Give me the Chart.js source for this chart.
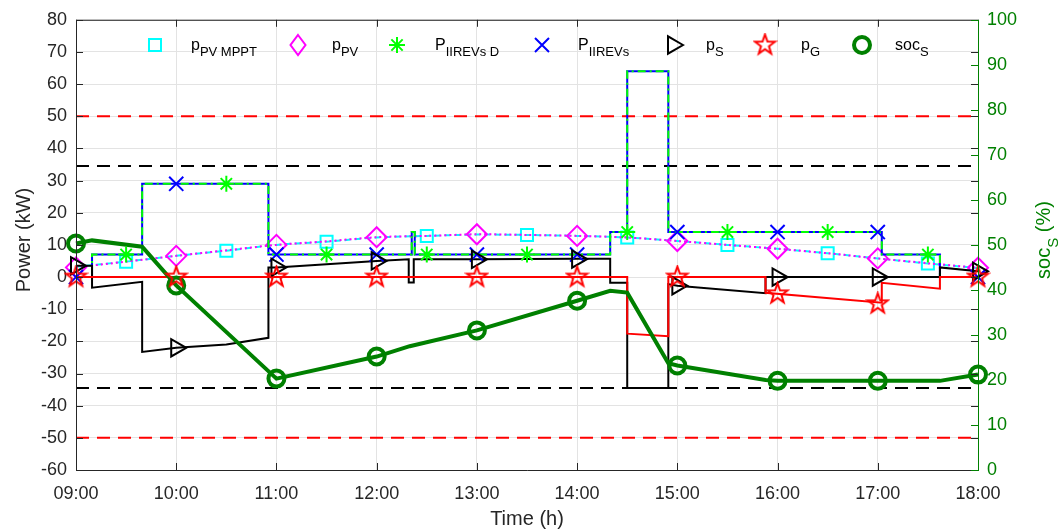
<!DOCTYPE html>
<html>
<head>
<meta charset="utf-8">
<script src="https://cdn.jsdelivr.net/npm/chart.js@4.4.1/dist/chart.umd.min.js"></script>
<style>
  html, body { margin: 0; padding: 0; background: #fff; }
</style>
</head>
<body>
<canvas id="chart" width="1060" height="531"></canvas>
<script>
// time in hours, 9 = 09:00
const hours = [9, 10, 11, 12, 13, 14, 15, 16, 17, 18];
const halfHours = [9.5, 10.5, 11.5, 12.5, 13.5, 14.5, 15.5, 16.5, 17.5];
const hourLabels = ["09:00", "10:00", "11:00", "12:00", "13:00", "14:00", "15:00", "16:00", "17:00", "18:00"];

// PV power (kW), every half hour
const pvTime = [9, 9.5, 10, 10.5, 11, 11.5, 12, 12.5, 13, 13.5, 14, 14.5, 15, 15.5, 16, 16.5, 17, 17.5, 18];
const pvMppt = [3.2, 4.8, 6.6, 8.2, 10.0, 11.0, 12.3, 12.8, 13.2, 13.1, 12.8, 12.3, 11.2, 10.0, 8.8, 7.4, 5.8, 4.2, 2.8];
const pvUsed = [3.0, 4.8, 6.6, 8.3, 10.0, 11.1, 12.4, 12.8, 13.3, 13.1, 12.8, 12.3, 11.2, 10.0, 8.8, 7.4, 5.8, 4.3, 2.9];

// EV charging power (kW)
const evTime = [9, 9.16, 9.16, 9.66, 9.66, 10.92, 10.92, 12.35, 12.35, 12.38, 12.38, 14.33, 14.33, 14.5, 14.5, 14.91, 14.91, 17.04, 17.04, 17.62, 17.62, 18];
const evPower = [0, 0, 7, 7, 29, 29, 7, 7, 14, 14, 7, 7, 14, 14, 64, 64, 14, 14, 7, 7, 0, 0];
const evPowerD = [0, 0, 7, 7, 29, 29, 7, 7, 14, 14, 7, 7, 14, 14, 64, 64, 14, 14, 7, 7, 0, 0];
const evAtHours = [0, 29, 7, 7, 7, 7, 14, 14, 14, 0];
const evDAtHalf = [7, 29, 7, 7, 7, 14, 14, 14, 7];

// storage power (kW)
const psTime = [9, 9.16, 9.16, 9.66, 9.66, 10, 10.5, 10.92, 10.92, 11, 11.5, 12, 12.32, 12.32, 12.37, 12.37, 13, 14, 14.33, 14.33, 14.5, 14.5, 14.91, 14.91, 15, 15.88, 15.88, 17.62, 17.62, 18];
const psVal = [3.5, 3.5, -3.3, -1.5, -23.3, -22, -21, -18.9, 3, 3, 4, 5, 5.5, -1.7, -1.7, 5.5, 5.5, 5.7, 5.7, -1.8, -1.8, -34.5, -34.5, -2.2, -2.7, -5, 0, 0, 3, 1.8];
const psAtHours = [3.5, -22, 3, 5, 5.5, 5.6, -2.7, 0, 0, 1.8];

// grid power (kW)
const pgTime = [9, 14.5, 14.5, 14.91, 14.91, 15.88, 15.88, 17.04, 17.04, 17.62, 17.62, 18];
const pgVal = [0, 0, -17.6, -18.4, 0, 0, -4.9, -8, -1.8, -3.6, 0, 0];
const pgAtHours = [0, 0, 0, 0, 0, 0, 0, -5.2, -8.3, 0];

// storage state of charge (%)
const socTime = [9, 9.16, 9.66, 10, 11, 12, 12.33, 13, 14, 14.33, 14.5, 14.91, 15, 15.88, 16, 17, 17.62, 18];
const socVal = [50.3, 51, 49.6, 41, 20.3, 25.2, 27.5, 31, 37.6, 39.8, 39.4, 23.7, 23.2, 20, 19.8, 19.8, 19.8, 21.2];
const socAtHours = [50.3, 41, 20.3, 25.2, 31, 37.6, 23.2, 19.8, 19.8, 21.2];

// limits (kW)
const gridLimit = [50, -50];
const storageLimit = [34.5, -34.5];

const pts = (t, v) => t.map((x, i) => ({ x, y: v[i] }));

function makeStar(r, color) {
  const s = Math.ceil(r * 2 + 4);
  const c = document.createElement("canvas");
  c.width = s; c.height = s;
  const g = c.getContext("2d");
  g.strokeStyle = color;
  g.lineWidth = 2;
  g.beginPath();
  for (let i = 0; i < 10; i++) {
    const rr = i % 2 ? r * 0.4 : r;
    const a = -Math.PI / 2 + i * Math.PI / 5;
    const px = s / 2 + rr * Math.cos(a), py = s / 2 + rr * Math.sin(a);
    if (i) g.lineTo(px, py); else g.moveTo(px, py);
  }
  g.closePath();
  g.stroke();
  return c;
}
const redStar = makeStar(10.5, "#ff0000");

const GREEN = "#008000";
const TXT = "#262626";
const FONT = "'Liberation Sans', Arial, sans-serif";

const lineBase = { pointRadius: 0, fill: false, tension: 0, clip: false };
const markBase = { showLine: false, clip: false, pointBorderWidth: 2, pointBackgroundColor: "rgba(0,0,0,0)" };

const datasets = [];
gridLimit.forEach((v, i) => datasets.push({ ...lineBase, data: pts([9, 18], [v, v]), borderColor: "#ff0000", borderWidth: 2, borderDash: [13, 8], order: 20 + i }));
storageLimit.forEach((v, i) => datasets.push({ ...lineBase, data: pts([9, 18], [v, v]), borderColor: "#000000", borderWidth: 2, borderDash: [13, 8], order: 22 + i }));

datasets.push(
  { ...lineBase, data: pts(pvTime, pvMppt), borderColor: "#00ffff", borderWidth: 2, borderDash: [6, 4], tension: 0.3,
    pointRadius: pvTime.map((t, i) => (i % 2 ? 8.5 : 0)), pointStyle: "rect", pointBorderColor: "#00ffff", pointBorderWidth: 2, pointBackgroundColor: "rgba(0,0,0,0)", order: 15 },
  { ...lineBase, data: pts(pvTime, pvUsed), borderColor: "#ff00ff", borderWidth: 2, borderDash: [2, 3], tension: 0.3,
    pointRadius: pvTime.map((t, i) => (i % 2 ? 0 : 10)), pointStyle: "rectRot", pointBorderColor: "#ff00ff", pointBorderWidth: 2, pointBackgroundColor: "rgba(0,0,0,0)", order: 14 },
  { ...lineBase, data: pts(evTime, evPower), borderColor: "#0000ff", borderWidth: 2, order: 13 },
  { ...lineBase, data: pts(evTime, evPowerD), borderColor: "#00ff00", borderWidth: 2, borderDash: [8, 4, 2, 4], order: 12 },
  { ...lineBase, data: pts(psTime, psVal), borderColor: "#000000", borderWidth: 2, order: 11 },
  { ...lineBase, data: pts(pgTime, pgVal), borderColor: "#ff0000", borderWidth: 2, order: 10 },
  { ...lineBase, data: pts(socTime, socVal), borderColor: GREEN, borderWidth: 4, yAxisID: "y2", order: 9 },
  { ...markBase, data: pts(halfHours, evDAtHalf), pointStyle: "star", pointRadius: 8, pointBorderColor: "#00ff00", order: 8 },
  { ...markBase, data: pts(hours, evAtHours), pointStyle: "crossRot", pointRadius: 10, pointBorderColor: "#0000ff", order: 7 },
  { ...markBase, data: pts(hours, psAtHours), pointStyle: "triangle", pointRotation: 90, pointRadius: 10, pointBorderColor: "#000000", order: 6 },
  { ...markBase, data: pts(hours, socAtHours), pointStyle: "circle", pointRadius: 8, pointBorderWidth: 4, pointBorderColor: GREEN, yAxisID: "y2", order: 5 },
  { ...markBase, data: pts(hours, pgAtHours), pointStyle: redStar, pointRadius: 10, order: 4 }
);

// legend entries: marker, main text, subscript
const legendItems = [
  { mark: "square", color: "#00ffff", main: "p", sub: "PV MPPT", mx: 155, tx: 191 },
  { mark: "diamond", color: "#ff00ff", main: "p", sub: "PV", mx: 298, tx: 332 },
  { mark: "asterisk", color: "#00ff00", main: "P", sub: "IIREVs D", mx: 397, tx: 435 },
  { mark: "cross", color: "#0000ff", main: "P", sub: "IIREVs", mx: 542, tx: 578 },
  { mark: "triangle", color: "#000000", main: "p", sub: "S", mx: 673, tx: 706 },
  { mark: "star", color: "#ff0000", main: "p", sub: "G", mx: 765, tx: 801 },
  { mark: "circle", color: GREEN, main: "soc", sub: "S", mx: 862, tx: 895 }
];

function drawMark(ctx, kind, color, x, y) {
  ctx.save();
  ctx.strokeStyle = color;
  ctx.lineWidth = 2;
  ctx.beginPath();
  if (kind === "square") {
    ctx.rect(x - 6, y - 6, 12, 12);
  } else if (kind === "diamond") {
    ctx.moveTo(x, y - 10); ctx.lineTo(x + 7.5, y); ctx.lineTo(x, y + 10); ctx.lineTo(x - 7.5, y); ctx.closePath();
  } else if (kind === "asterisk") {
    for (let k = 0; k < 4; k++) {
      const a = k * Math.PI / 4;
      ctx.moveTo(x - 8 * Math.cos(a), y - 8 * Math.sin(a));
      ctx.lineTo(x + 8 * Math.cos(a), y + 8 * Math.sin(a));
    }
  } else if (kind === "cross") {
    ctx.moveTo(x - 7, y - 7); ctx.lineTo(x + 7, y + 7);
    ctx.moveTo(x + 7, y - 7); ctx.lineTo(x - 7, y + 7);
  } else if (kind === "triangle") {
    ctx.moveTo(x + 10, y); ctx.lineTo(x - 5, y - 8.7); ctx.lineTo(x - 5, y + 8.7); ctx.closePath();
  } else if (kind === "star") {
    ctx.drawImage(redStar, x - redStar.width / 2, y - redStar.height / 2);
  } else if (kind === "circle") {
    ctx.lineWidth = 4;
    ctx.arc(x, y, 8, 0, Math.PI * 2);
  }
  ctx.stroke();
  ctx.restore();
}

function subText(ctx, main, sub, rest, x, y, size, subSize, color) {
  ctx.fillStyle = color;
  ctx.textBaseline = "alphabetic";
  ctx.textAlign = "left";
  ctx.font = size + "px " + FONT;
  ctx.fillText(main, x, y);
  let w = ctx.measureText(main).width;
  ctx.font = subSize + "px " + FONT;
  ctx.fillText(sub, x + w, y + size * 0.4);
  w += ctx.measureText(sub).width;
  if (rest) {
    ctx.font = size + "px " + FONT;
    ctx.fillText(rest, x + w, y);
    w += ctx.measureText(rest).width;
  }
  return w;
}

function measureSub(ctx, main, sub, rest, size, subSize) {
  ctx.font = size + "px " + FONT;
  let w = ctx.measureText(main).width + ctx.measureText(rest).width;
  ctx.font = subSize + "px " + FONT;
  return w + ctx.measureText(sub).width;
}

const decor = {
  id: "decor",
  afterDraw(chart) {
    const { ctx, chartArea: a, scales } = chart;
    ctx.save();
    // frame
    ctx.lineWidth = 1;
    ctx.strokeStyle = TXT;
    ctx.beginPath();
    ctx.moveTo(a.left + 0.5, a.top + 0.5); ctx.lineTo(a.left + 0.5, a.bottom + 0.5);
    ctx.lineTo(a.right, a.bottom + 0.5);
    ctx.moveTo(a.left, a.top + 0.5); ctx.lineTo(a.right, a.top + 0.5);
    // left axis ticks, mirrored on right
    for (let v = -60; v <= 80; v += 10) {
      const y = Math.round(scales.y.getPixelForValue(v)) + 0.5;
      ctx.moveTo(a.left, y); ctx.lineTo(a.left + 7, y);
      ctx.moveTo(a.right - 7, y); ctx.lineTo(a.right, y);
    }
    hours.forEach(h => {
      const x = Math.round(scales.x.getPixelForValue(h)) + 0.5;
      ctx.moveTo(x, a.bottom); ctx.lineTo(x, a.bottom - 7);
      ctx.moveTo(x, a.top); ctx.lineTo(x, a.top + 7);
    });
    ctx.stroke();
    // right axis in green
    ctx.strokeStyle = GREEN;
    ctx.beginPath();
    ctx.moveTo(a.right + 0.5, a.top); ctx.lineTo(a.right + 0.5, a.bottom + 1);
    for (let v = 0; v <= 100; v += 10) {
      const y = Math.round(scales.y2.getPixelForValue(v)) + 0.5;
      ctx.moveTo(a.right - 7, y); ctx.lineTo(a.right, y);
    }
    ctx.stroke();

    // legend
    legendItems.forEach(it => {
      drawMark(ctx, it.mark, it.color, it.mx, 45);
      subText(ctx, it.main, it.sub, "", it.tx, 50, 16, 13, "#000000");
    });

    // axis titles
    ctx.font = "20px " + FONT;
    ctx.fillStyle = TXT;
    ctx.textAlign = "center";
    ctx.textBaseline = "alphabetic";
    ctx.fillText("Time (h)", (a.left + a.right) / 2, 525);

    ctx.save();
    ctx.translate(30, 240);
    ctx.rotate(-Math.PI / 2);
    ctx.fillText("Power (kW)", 0, 0);
    ctx.restore();

    ctx.save();
    ctx.translate(1050, 240);
    ctx.rotate(-Math.PI / 2);
    const w = measureSub(ctx, "soc", "S", " (%)", 20, 15);
    subText(ctx, "soc", "S", " (%)", -w / 2, 0, 20, 15, GREEN);
    ctx.restore();
    ctx.restore();
  }
};

new Chart(document.getElementById("chart"), {
  type: "line",
  data: { datasets },
  options: {
    responsive: false,
    animation: false,
    events: [],
    layout: { padding: { top: 18, left: 0, right: 0, bottom: 0 } },
    plugins: { legend: { display: false }, tooltip: { enabled: false } },
    scales: {
      x: {
        type: "linear", min: 9, max: 18,
        afterFit: s => { s.height = 61; },
        border: { display: false },
        grid: { color: "#e3e3e3", drawTicks: false },
        ticks: { stepSize: 1, autoSkip: false, maxRotation: 0, padding: 13, color: TXT, font: { size: 18, family: FONT },
          callback: v => hourLabels[hours.indexOf(v)] }
      },
      y: {
        position: "left", min: -60, max: 80,
        afterFit: s => { s.width = 76; },
        border: { display: false },
        grid: { color: "#e3e3e3", drawTicks: false },
        ticks: { stepSize: 10, padding: 9, color: TXT, font: { size: 18, family: FONT } }
      },
      y2: {
        position: "right", min: 0, max: 100,
        afterFit: s => { s.width = 82; },
        border: { display: false },
        grid: { drawOnChartArea: false, drawTicks: false },
        ticks: { stepSize: 10, padding: 9, color: GREEN, font: { size: 18, family: FONT } }
      }
    }
  },
  plugins: [decor]
});
</script>
</body>
</html>
